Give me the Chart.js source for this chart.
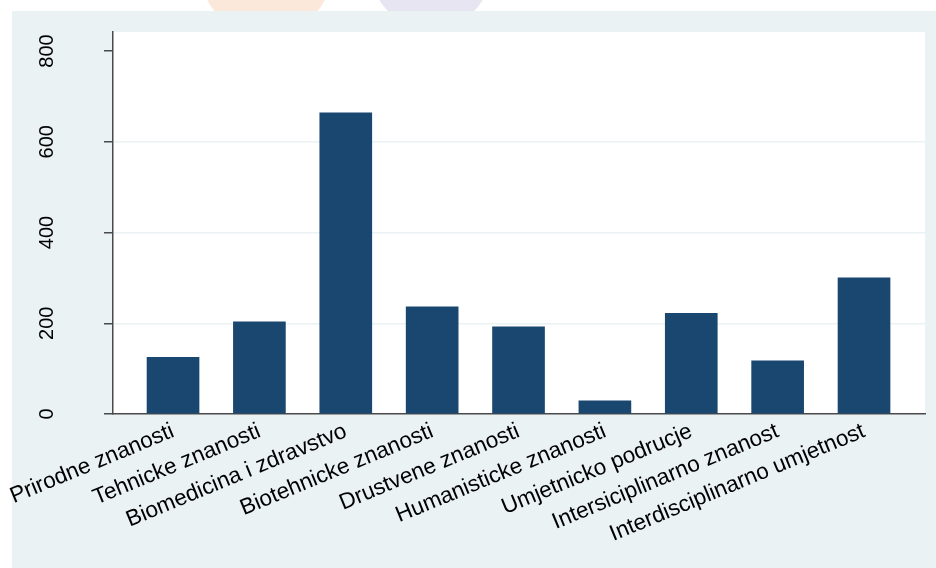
<!DOCTYPE html>
<html>
<head>
<meta charset="utf-8">
<script src="https://cdn.jsdelivr.net/npm/chart.js@4"></script>
<style>
    html, body { margin: 0; padding: 0; background: #ffffff; overflow: hidden; }
    #wrap { position: relative; width: 936px; height: 568px; }
    .blob { position: absolute; border-radius: 50%; }
    #panel { position: absolute; left: 12px; top: 11px; right: 0; bottom: 0; background: #eaf2f3; }
    canvas { position: absolute; left: 0; top: 0; }
</style>
</head>
<body>
<div id="wrap">
    <div class="blob" style="left:200px; top:-96px; width:132px; height:132px; background:#fce8da;"></div>
    <div class="blob" style="left:368px; top:-110px; width:126px; height:140px; background:#e6e5f1;"></div>
    <div id="panel"></div>
    <canvas id="chart" width="936" height="568"></canvas>
</div>
<script>
// data
const categories = ['Prirodne znanosti', 'Tehnicke znanosti', 'Biomedicina i zdravstvo', 'Biotehnicke znanosti',
    'Drustvene znanosti', 'Humanisticke znanosti', 'Umjetnicko podrucje', 'Intersiciplinarno znanost',
    'Interdisciplinarno umjetnost'];
const counts = [125, 203, 664, 236, 192, 29, 222, 117, 300];
const yTicks = [0, 200, 400, 600, 800];

// white plot region on top of the grey panel
const plotBackground = {
    id: 'plotBackground',
    beforeDraw(chart) {
        const { ctx, chartArea } = chart;
        ctx.save();
        ctx.fillStyle = '#ffffff';
        ctx.fillRect(chartArea.left, chartArea.top, chartArea.right - chartArea.left, chartArea.bottom - chartArea.top);
        ctx.restore();
    }
};

const ctx = document.getElementById('chart').getContext('2d');
const chart = new Chart(ctx, {
    type: 'bar',
    data: {
        datasets: [{
            data: counts.map((v, i) => ({ x: i + 1, y: v })),
            backgroundColor: '#1a476f',
            borderWidth: 0,
            barThickness: 52
        }]
    },
    options: {
        responsive: false,
        animation: false,
        devicePixelRatio: 1,
        layout: { padding: { top: 32, right: 11, left: 0, bottom: 0 } },
        plugins: {
            legend: { display: false },
            tooltip: { enabled: false }
        },
        scales: {
            x: {
                type: 'linear',
                offset: false,
                min: 0.305,
                max: 9.706,
                afterBuildTicks: axis => {
                    axis.ticks = categories.map((c, i) => ({ value: i + 1 }));
                },
                afterFit: scale => { scale.height = 154; },
                grid: { display: false },
                border: { color: '#4a4a4a', width: 1.5 },
                ticks: {
                    autoSkip: false,
                    minRotation: 22.5,
                    maxRotation: 22.5,
                    padding: -4,
                    color: '#000000',
                    font: { family: "'Liberation Sans', Arial, sans-serif", size: 22.5 },
                    callback: v => categories[v - 1]
                }
            },
            y: {
                min: 0,
                max: 842,
                afterBuildTicks: axis => {
                    axis.ticks = yTicks.map(v => ({ value: v }));
                },
                afterFit: scale => {
                    scale.width = 113;
                    scale.paddingTop = 0;
                    scale.paddingBottom = 0;
                },
                grid: {
                    color: c => (c.tick && c.tick.value > 0 && c.tick.value < 800) ? '#eaf2f3' : 'rgba(0,0,0,0)',
                    lineWidth: 1.5,
                    tickColor: '#4a4a4a',
                    tickLength: 9
                },
                border: { color: '#4a4a4a', width: 1.5 },
                ticks: {
                    minRotation: 90,
                    maxRotation: 90,
                    crossAlign: 'center',
                    padding: 40,
                    color: '#000000',
                    font: { family: "'Liberation Sans', Arial, sans-serif", size: 20 }
                }
            }
        }
    },
    plugins: [plotBackground]
});
</script>
</body>
</html>
